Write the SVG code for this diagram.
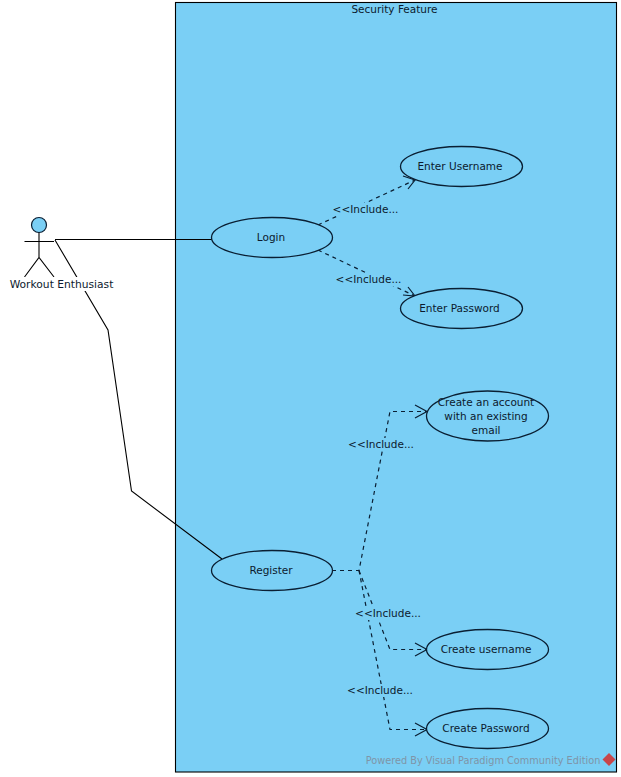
<svg xmlns="http://www.w3.org/2000/svg" width="621" height="777" viewBox="0 0 621 777">
<style>
text{font-family:"DejaVu Sans",sans-serif;font-size:10.500px;fill:#0c1a2e;text-anchor:middle}
.uc{fill:#7acff5;stroke:#0a1f33;stroke-width:1.300}
.solid{fill:none;stroke:#000;stroke-width:1.100}
.dash{fill:none;stroke:#0a1f33;stroke-width:1.200;stroke-dasharray:4 4}
.head{fill:none;stroke:#0a1f33;stroke-width:1.200}
.lab{fill:#7acff5;stroke:none}
</style>
<rect width="621" height="777" fill="#fff"/>
<g id="system">
<rect x="175.500" y="2.500" width="441" height="769.500" fill="#7acff5" stroke="#000" stroke-width="1.100"/>
<text x="394.500" y="13">Security Feature</text>
</g>
<g id="connectors">
<path class="solid" d="M55 239.500H212"/>
<path class="solid" d="M55 240L108 330L131.500 491L222 559"/>
<path class="dash" d="M318 225L415 180"/>
<path class="head" d="M403 176L415 180L408 189"/>
<path class="dash" d="M318 250L415 296"/>
<path class="head" d="M408 287L415 296L403 295"/>
<path class="dash" d="M332 570.500H359L390 411.500H427"/>
<path class="head" d="M415 405L427 411.500L415 418"/>
<path class="dash" d="M359 570.500L390 649.500H427"/>
<path class="head" d="M415 643L427 649.500L415 656"/>
<path class="dash" d="M359 570.500L390 729.500H427"/>
<path class="head" d="M415 723L427 729.500L415 736"/>
<rect class="lab" x="333" y="203" width="65" height="13"/>
<rect class="lab" x="336" y="273" width="65" height="13"/>
<rect class="lab" x="349" y="438" width="65" height="13"/>
<rect class="lab" x="355" y="607" width="65" height="13"/>
<rect class="lab" x="348" y="684" width="65" height="13"/>
<text x="365.500" y="213">&lt;&lt;Include...</text>
<text x="368.500" y="283">&lt;&lt;Include...</text>
<text x="381" y="448">&lt;&lt;Include...</text>
<text x="388" y="617">&lt;&lt;Include...</text>
<text x="380" y="694">&lt;&lt;Include...</text>
</g>
<g id="actor">
<circle cx="39" cy="225" r="7.500" fill="#7acff5" stroke="#0a1f33" stroke-width="1.200"/>
<path class="solid" d="M39 232.500V257.500M24.500 241.500H54M24.500 277L39 257.500L54 277"/>
<rect x="9" y="277" width="105" height="14" fill="#fff"/>
<text x="61.500" y="288" style="font-size:10.700px">Workout Enthusiast</text>
</g>
<g id="login"><ellipse class="uc" cx="272" cy="237.500" rx="60.500" ry="20"/><text x="271" y="241">Login</text></g>
<g id="enter-username"><ellipse class="uc" cx="461.500" cy="166.500" rx="61" ry="20"/><text x="460" y="170">Enter Username</text></g>
<g id="enter-password"><ellipse class="uc" cx="461.500" cy="308.500" rx="61" ry="20"/><text x="459.500" y="312">Enter Password</text></g>
<g id="register"><ellipse class="uc" cx="272" cy="570.500" rx="60.500" ry="20"/><text x="271" y="574">Register</text></g>
<g id="create-account"><ellipse class="uc" cx="487.500" cy="416" rx="61" ry="25"/><text x="486" y="406">Create an account</text><text x="486" y="420">with an existing</text><text x="486" y="434">email</text></g>
<g id="create-username"><ellipse class="uc" cx="487.500" cy="649.500" rx="61" ry="20"/><text x="486" y="653">Create username</text></g>
<g id="create-password"><ellipse class="uc" cx="487.500" cy="728.500" rx="61" ry="20"/><text x="486" y="732">Create Password</text></g>
<g id="watermark">
<text x="483" y="764" style="font-size:9.750px;fill:#7f95a8">Powered By Visual Paradigm Community Edition</text>
<path d="M609 753L615.500 759.500L609 766L602.500 759.500Z" fill="#c8464a"/>
</g>
</svg>
